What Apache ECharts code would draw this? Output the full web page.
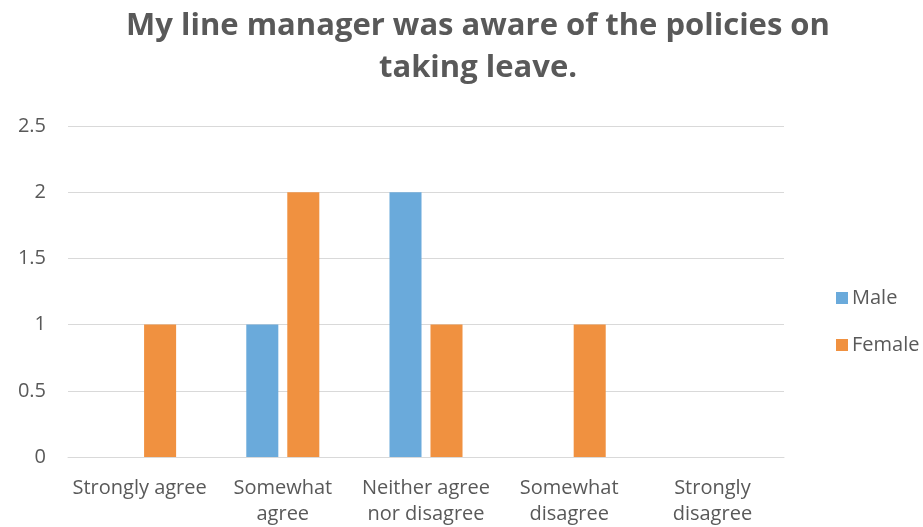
<!DOCTYPE html>
<html>
<head>
<meta charset="utf-8">
<script src="https://cdn.jsdelivr.net/npm/echarts@6/dist/echarts.min.js"></script>
<style>
  html, body { margin: 0; padding: 0; background: #fff; }
  #chart { width: 923px; height: 527px; }
</style>
</head>
<body>
<div id="chart"></div>
<script>
// Survey responses by gender
const categories = ['Strongly agree', 'Somewhat\nagree', 'Neither agree\nnor disagree', 'Somewhat\ndisagree', 'Strongly\ndisagree'];
const maleValues = [0, 1, 2, 0, 0];
const femaleValues = [1, 2, 1, 1, 0];
const yTicks = { min: 0, max: 2.5, interval: 0.5 };

const textColor = '#595959';
const fontFamily = '"Open Sans", Calibri, sans-serif';

const chart = echarts.init(document.getElementById('chart'), null, { renderer: 'canvas' });
chart.setOption({
  animation: false,
  textStyle: { fontFamily: fontFamily },
  title: {
    text: 'My line manager was aware of the policies on\ntaking leave.',
    left: 473,
    top: 0,
    textAlign: 'center',
    textStyle: {
      fontFamily: fontFamily,
      fontSize: 31,
      fontWeight: 'bold',
      color: textColor,
      lineHeight: 42
    }
  },
  legend: {
    orient: 'vertical',
    left: 831,
    top: 283,
    itemWidth: 12,
    itemHeight: 12,
    itemGap: 27,
    icon: 'rect',
    textStyle: { fontFamily: fontFamily, fontSize: 20, color: textColor, padding: [0, 0, 0, -1] },
    data: ['Male', 'Female']
  },
  grid: { left: 68, right: 139, top: 126, bottom: 70 },
  xAxis: {
    type: 'category',
    data: categories,
    axisLine: { lineStyle: { color: '#d9d9d9', width: 1 } },
    axisTick: { show: false },
    axisLabel: {
      color: textColor,
      fontSize: 20,
      fontFamily: fontFamily,
      lineHeight: 26,
      margin: 18,
      interval: 0
    }
  },
  yAxis: {
    type: 'value',
    min: yTicks.min,
    max: yTicks.max,
    interval: yTicks.interval,
    axisLine: { show: false },
    axisTick: { show: false },
    splitLine: { lineStyle: { color: '#d9d9d9', width: 1 } },
    axisLabel: {
      color: textColor,
      fontSize: 20,
      fontFamily: fontFamily,
      margin: 22
    }
  },
  series: [
    {
      name: 'Male',
      type: 'bar',
      data: maleValues,
      itemStyle: { color: '#6aaadb' },
      barGap: '28%',
      barCategoryGap: '49%'
    },
    {
      name: 'Female',
      type: 'bar',
      data: femaleValues,
      itemStyle: { color: '#f09140' },
      barGap: '28%',
      barCategoryGap: '49%'
    }
  ]
});
</script>
</body>
</html>
